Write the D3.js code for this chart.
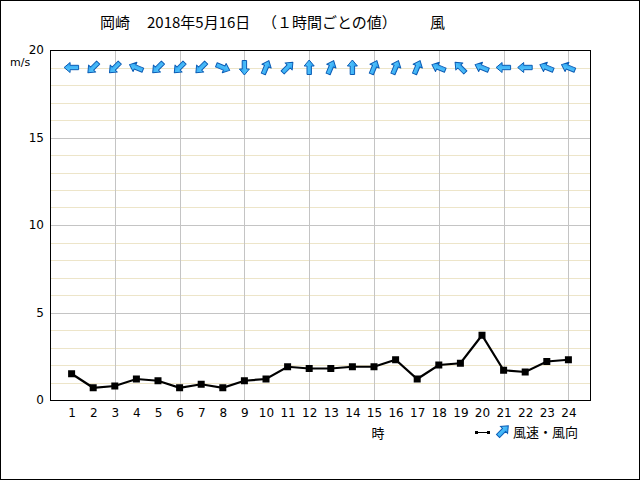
<!DOCTYPE html>
<html><head><meta charset="utf-8">
<script src="https://cdn.jsdelivr.net/npm/d3@7"></script>
<style>
html,body{margin:0;padding:0;background:#fff;}
svg{display:block;}
text{font-family:"Noto Sans CJK JP","DejaVu Sans",sans-serif;}
</style></head>
<body>
<script>
const hours = [1,2,3,4,5,6,7,8,9,10,11,12,13,14,15,16,17,18,19,20,21,22,23,24];
const windSpeed = [1.5,0.7,0.8,1.2,1.1,0.7,0.9,0.7,1.1,1.2,1.9,1.8,1.8,1.9,1.9,2.3,1.2,2.0,2.1,3.7,1.7,1.6,2.2,2.3];
const windFrom = ["E","NE","NE","ESE","NE","NE","NE","WNW","N","SSW","SW","S","SSW","S","SSW","SSW","SSW","ESE","SE","ESE","E","E","ESE","ESE"];
const yTicks = [0,5,10,15,20];
const titleParts = ["岡崎","2018年5月16日","（１時間ごとの値）","風"];
const compass = ["N","NNE","NE","ENE","E","ESE","SE","SSE","S","SSW","SW","WSW","W","WNW","NW","NNW"];

const W=640,H=480;
const svg=d3.select("body").append("svg").attr("width",W).attr("height",H);
svg.append("rect").attr("x",0.5).attr("y",0.5).attr("width",W-1).attr("height",H-1).attr("fill","#fff").attr("stroke","#000");

const x=d3.scaleLinear().domain([0,25]).range([50,590]);
const y=d3.scaleLinear().domain([0,20]).range([400,50]);

// title
const titleX=[100,147,262,430];
svg.selectAll("text.title").data(titleParts).enter().append("text")
  .attr("x",(d,i)=>titleX[i]).attr("y",28).attr("font-size",15).attr("fill","#000").text(d=>d);

// grid
const g=svg.append("g");
const minor=d3.range(1,20).filter(v=>v%5!==0);
g.selectAll("line.minor").data(minor).enter().append("line")
  .attr("x1",x(0)).attr("x2",x(25)).attr("y1",d=>Math.round(y(d))+0.5).attr("y2",d=>Math.round(y(d))+0.5)
  .attr("stroke","#ede5c9").attr("stroke-width",1);
g.selectAll("line.major").data([5,10,15]).enter().append("line")
  .attr("x1",x(0)).attr("x2",x(25)).attr("y1",d=>Math.round(y(d))+0.5).attr("y2",d=>Math.round(y(d))+0.5)
  .attr("stroke","#c4c4c4").attr("stroke-width",1);
g.selectAll("line.vert").data(hours.filter(h=>h%3===0)).enter().append("line")
  .attr("y1",y(0)).attr("y2",y(20)).attr("x1",d=>Math.round(x(d))+0.5).attr("x2",d=>Math.round(x(d))+0.5)
  .attr("stroke","#c4c4c4").attr("stroke-width",1);

// frame
svg.append("rect").attr("x",x(0)+0.5).attr("y",y(20)+0.5).attr("width",x(25)-x(0)).attr("height",y(0)-y(20))
  .attr("fill","none").attr("stroke","#000");

// y axis
const yAxis=d3.axisLeft(y).tickValues(yTicks).tickSize(0).tickPadding(6);
const ya=svg.append("g").attr("transform",`translate(${x(0)},0)`).call(yAxis);
ya.select(".domain").remove();
ya.selectAll("text").attr("font-size",12).attr("fill","#000").style("font-family","'DejaVu Sans',sans-serif");
svg.append("text").attr("x",10).attr("y",66).attr("font-size",11).text("m/s").style("font-family","'DejaVu Sans',sans-serif");

// x axis
const xAxis=d3.axisBottom(x).tickValues(hours).tickSize(0).tickPadding(8).tickFormat(d3.format("d"));
const xa=svg.append("g").attr("transform",`translate(0,${y(0)})`).call(xAxis);
xa.select(".domain").remove();
xa.selectAll("text").attr("font-size",12).attr("fill","#000").style("font-family","'DejaVu Sans',sans-serif");
svg.append("text").attr("x",378).attr("y",438).attr("text-anchor","middle").attr("font-size",13).text("時");

// line
const line=d3.line().x((d,i)=>x(hours[i])).y(d=>y(d));
svg.append("path").datum(windSpeed).attr("d",line).attr("fill","none").attr("stroke","#000").attr("stroke-width",2.2);
svg.selectAll("rect.pt").data(windSpeed).enter().append("rect")
  .attr("x",(d,i)=>x(hours[i])-3.5).attr("y",d=>y(d)-3.5).attr("width",7).attr("height",7).attr("fill","#000");

// arrows
const arrowPath="M0,-7.5 L5,-1.5 L2.2,-1.5 L2.2,7 L-2.2,7 L-2.2,-1.5 L-5,-1.5 Z";
const defs=svg.append("defs");
const grad=defs.append("linearGradient").attr("id","ag").attr("x1","0").attr("y1","0").attr("x2","1").attr("y2","0");
grad.append("stop").attr("offset","0").attr("stop-color","#5fd0ff");
grad.append("stop").attr("offset","1").attr("stop-color","#2a9ff0");
function toward(code){return (compass.indexOf(code)*22.5+180)%360;}
svg.selectAll("path.arrow").data(windFrom).enter().append("path")
  .attr("d",arrowPath)
  .attr("transform",(d,i)=>`translate(${x(hours[i])},${y(19)}) rotate(${toward(d)})`)
  .attr("fill","url(#ag)").attr("stroke","#0b5cb5").attr("stroke-width",1).attr("stroke-linejoin","round");

// legend
svg.append("line").attr("x1",477).attr("x2",488).attr("y1",432.5).attr("y2",432.5).attr("stroke","#000").attr("stroke-width",1);
svg.append("rect").attr("x",475).attr("y",431).attr("width",3).attr("height",3).attr("fill","#000");
svg.append("rect").attr("x",487).attr("y",431).attr("width",3).attr("height",3).attr("fill","#000");
svg.append("path").attr("d",arrowPath).attr("transform",`translate(503,431) rotate(45)`)
  .attr("fill","url(#ag)").attr("stroke","#0b5cb5").attr("stroke-width",1);
svg.append("text").attr("x",513).attr("y",437).attr("font-size",13).text("風速・風向");
</script>
</body></html>
